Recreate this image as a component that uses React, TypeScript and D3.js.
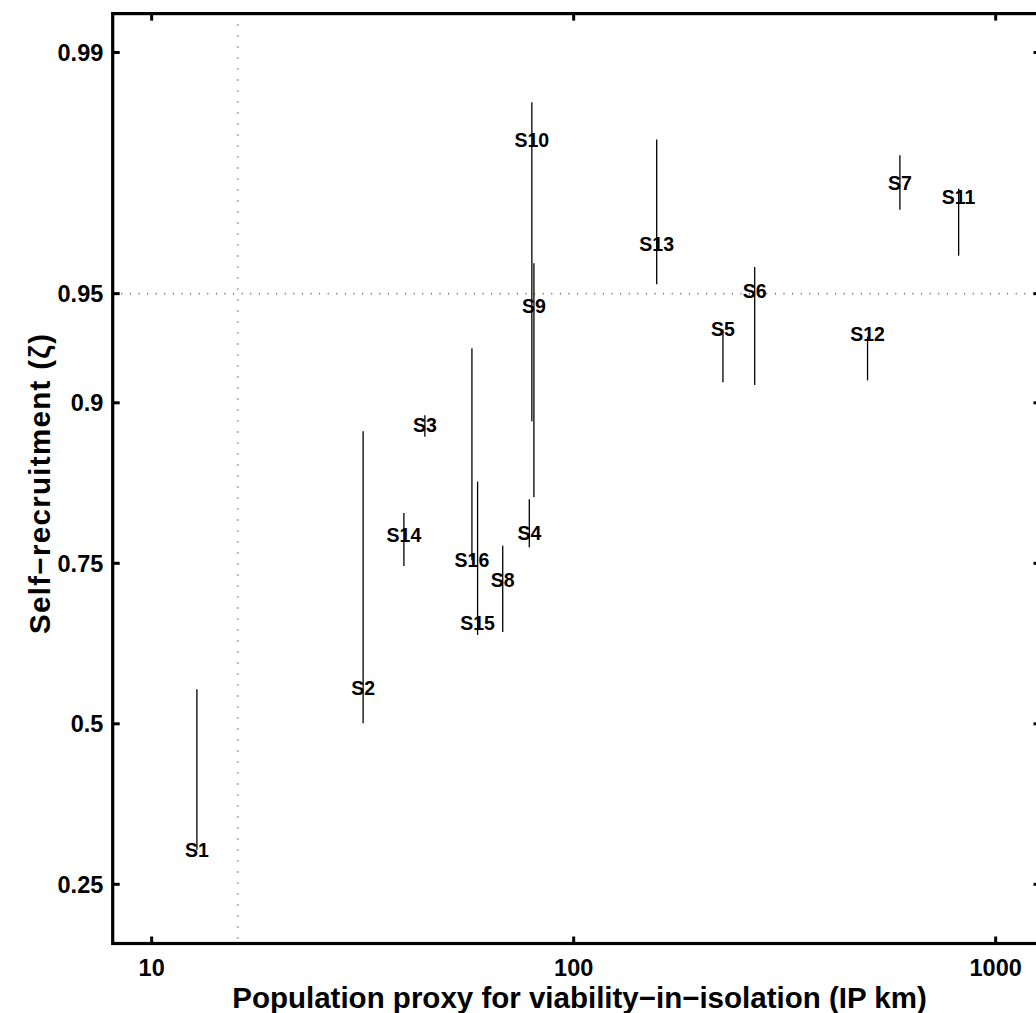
import React from "react";
import * as d3 from "d3";

const siteNames = ["S1", "S2", "S3", "S4", "S5", "S6", "S7", "S8", "S9", "S10", "S11", "S12", "S13", "S14", "S15", "S16"];
const ipKm = [12.8, 31.7, 44.4, 78.5, 225.8, 268.5, 593, 67.9, 80.5, 79.6, 817, 497, 157.3, 39.6, 59.2, 57.4];
const srLow = [0.297, 0.501, 0.877, 0.770, 0.912, 0.9105, 0.9712, 0.652, 0.825, 0.888, 0.961, 0.913, 0.953, 0.7465, 0.6475, 0.754];
const srHigh = [0.559, 0.881, 0.892, 0.823, 0.937, 0.958, 0.980, 0.772, 0.959, 0.986, 0.975, 0.934, 0.982, 0.809, 0.840, 0.929];
const srLabelAt = [0.296, 0.5605, 0.8855, 0.787, 0.937, 0.951, 0.976, 0.728, 0.946, 0.982, 0.9735, 0.935, 0.964, 0.785, 0.666, 0.754];

const xTickValues = [10, 100, 1000];
const xTickLabels = ["10", "100", "1000"];
const yTickValues = [0.25, 0.5, 0.75, 0.9, 0.95, 0.99];
const yTickLabels = ["0.25", "0.5", "0.75", "0.9", "0.95", "0.99"];
const xLimits = [8.085, 1277];
const yLimits = [0.18186, 0.99232];
const ipThreshold = 16;
const srThreshold = 0.95;

const W = 1036;
const H = 1013;
const L = 112.7;
const R = 1040.5;
const T = 13.6;
const B = 943.5;
const FONT = "'Liberation Sans', Arial, Helvetica, sans-serif";

const logit = (p: number) => Math.log(p / (1 - p));

export default function App() {
  const x = d3.scaleLog().domain(xLimits).range([L, R]);
  const yLin = d3.scaleLinear().domain(yLimits.map(logit)).range([B, T]);
  const y = (p: number) => yLin(logit(p));
  const tickLen = 7;

  return (
    <svg
      width={W}
      height={H}
      style={{ position: "absolute", left: 0, top: 0, background: "#fff" }}
      fontFamily={FONT}
      fontWeight="bold"
    >
      <rect x={0} y={0} width={W} height={H} fill="#fff" />
      {/* threshold dotted lines */}
      <line x1={x(ipThreshold)} x2={x(ipThreshold)} y1={T} y2={B} stroke="#777" strokeWidth={2} strokeDasharray="1 10" />
      <line x1={L} x2={R} y1={y(srThreshold)} y2={y(srThreshold)} stroke="#777" strokeWidth={2} strokeDasharray="1 7.6" />

      {/* ranges */}
      {siteNames.map((s, i) => (
        <line key={"r" + s} x1={x(ipKm[i])} x2={x(ipKm[i])} y1={y(srLow[i])} y2={y(srHigh[i])} stroke="#000" strokeWidth={1.3} />
      ))}
      {siteNames.map((s, i) => (
        <text key={"t" + s} x={x(ipKm[i])} y={y(srLabelAt[i])} dy="0.36em" textAnchor="middle" fontSize={19.5} fill="#000">
          {s}
        </text>
      ))}

      {/* axes box */}
      <rect x={L} y={T} width={R - L} height={B - T} fill="none" stroke="#000" strokeWidth={3.2} />

      {xTickValues.map((v, i) => (
        <g key={"xt" + v}>
          <line x1={x(v)} x2={x(v)} y1={B} y2={B - tickLen} stroke="#000" strokeWidth={3} />
          <line x1={x(v)} x2={x(v)} y1={T} y2={T + tickLen} stroke="#000" strokeWidth={3} />
          <text x={x(v)} y={976} textAnchor="middle" fontSize={23.5} fill="#000">
            {xTickLabels[i]}
          </text>
        </g>
      ))}
      {yTickValues.map((v, i) => (
        <g key={"yt" + v}>
          <line x1={L} x2={L + tickLen} y1={y(v)} y2={y(v)} stroke="#000" strokeWidth={3} />
          <line x1={R} x2={R - tickLen} y1={y(v)} y2={y(v)} stroke="#000" strokeWidth={3} />
          <text x={103.3} y={y(v)} dy="0.36em" textAnchor="end" fontSize={23.5} fill="#000">
            {yTickLabels[i]}
          </text>
        </g>
      ))}

      <text x={579.5} y={1008} textAnchor="middle" fontSize={29.5} fill="#000">
        Population proxy for viability−in−isolation (IP km)
      </text>
      <text transform="translate(50,484) rotate(-90)" textAnchor="middle" fontSize={29.5} fill="#000" textLength={300} lengthAdjust="spacing">
        Self−recruitment (ζ)
      </text>
    </svg>
  );
}
